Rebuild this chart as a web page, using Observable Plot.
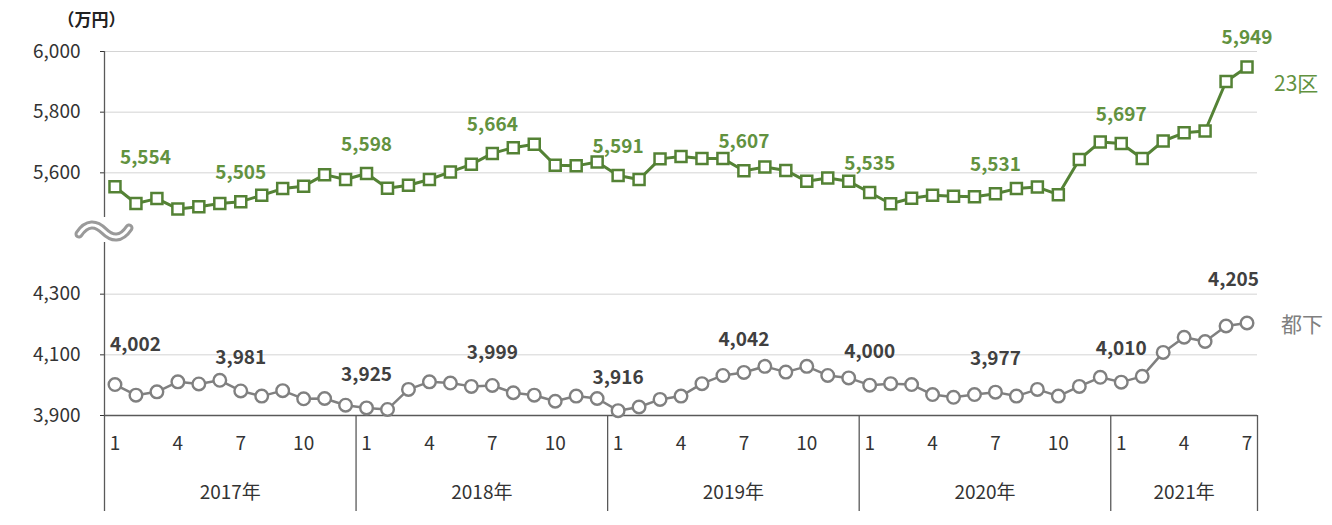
<!DOCTYPE html>
<html>
<head>
<meta charset="utf-8">
<script src="https://cdn.jsdelivr.net/npm/d3@7"></script>
<script src="https://cdn.jsdelivr.net/npm/@observablehq/plot@0.6"></script>
<style>
  body { margin: 0; background: #fff; }
</style>
</head>
<body>
<div id="chart"></div>
<script>
// ---- data ----
const years = [2017, 2018, 2019, 2020, 2021];
const monthsPerYear = [12, 12, 12, 12, 7];
const ku23 = [
  5554, 5499, 5515, 5481, 5488, 5499, 5505, 5526, 5548, 5556, 5594, 5578,
  5598, 5549, 5559, 5578, 5603, 5628, 5664, 5683, 5694, 5625, 5623, 5636,
  5591, 5578, 5646, 5654, 5647, 5647, 5607, 5619, 5608, 5572, 5583, 5572,
  5535, 5498, 5516, 5526, 5523, 5521, 5531, 5548, 5553, 5528, 5644, 5702,
  5697, 5647, 5705, 5732, 5738, 5901, 5949
];
const toka = [
  4002, 3967, 3978, 4011, 4004, 4016, 3981, 3964, 3982, 3955, 3956, 3934,
  3925, 3920, 3986, 4011, 4007, 3996, 3999, 3975, 3967, 3947, 3964, 3956,
  3916, 3928, 3953, 3964, 4005, 4032, 4042, 4062, 4043, 4062, 4032, 4024,
  4000, 4005, 4002, 3969, 3960, 3969, 3977, 3964, 3986, 3964, 3996, 4026,
  4010, 4029, 4108, 4158, 4144, 4195, 4205
];
const lowerTicks = [3900, 4100, 4300];
const upperTicks = [5600, 5800, 6000];
const monthTickLabels = [1, 4, 7, 10];
const labeledMonths = [1, 7];
const seriesNames = ["23区", "都下"];
const unitLabel = "（万円）";

// ---- derived ----
const shift = 5600 - 4700; // upper panel is drawn shifted down (axis break)
const rows = [];
years.forEach((yr, k) => {
  for (let m = 1; m <= monthsPerYear[k]; m++) {
    const i = rows.length;
    rows.push({i, year: yr, month: m, ku23: ku23[i], toka: toka[i]});
  }
});
const n = rows.length;
const yearSpans = [];
{
  let s = 0;
  years.forEach((yr, k) => {
    yearSpans.push({year: yr, start: s, end: s + monthsPerYear[k] - 1});
    s += monthsPerYear[k];
  });
}
const bounds = [-0.5, ...yearSpans.map(d => d.end + 0.5)];
const fmt = d3.format(",");
const tickVals = [...lowerTicks, ...upperTicks.map(v => v - shift)];
const breakVal = (lowerTicks[lowerTicks.length - 1] + upperTicks[0] - shift) / 2;

const green = "#548235";
const greenText = "#62923f";
const gray = "#808080";
const grayText = "#404040";
const axisColor = "#595959";

const labelRows = rows.filter(d => labeledMonths.includes(d.month));
const first = labelRows[0];
const last = rows[n - 1];
const midLabels = labelRows.slice(1);

const breakMark = (index, {x, y}) => {
  const cx = x(-0.5), cy = y(breakVal) - 2;
  const g = d3.create("svg:g");
  const p = `M${cx-25},${cy+3} C${cx-17},${cy-9} ${cx-8},${cy-8} ${cx},${cy} C${cx+8},${cy+8} ${cx+17},${cy+9} ${cx+25},${cy-3}`;
  g.append("path").attr("d", p).attr("fill", "none").attr("stroke", "#9a9a9a").attr("stroke-width", 9).attr("stroke-linecap", "round");
  g.append("path").attr("d", p).attr("fill", "none").attr("stroke", "#fff").attr("stroke-width", 3).attr("stroke-linecap", "round");
  return g.node();
};

const chart = Plot.plot({
  width: 1332,
  height: 525,
  marginLeft: 104,
  marginRight: 75,
  marginTop: 51,
  marginBottom: 110,
  style: {fontFamily: "'Noto Sans CJK JP', 'Noto Sans', sans-serif", fontSize: "19px", color: "#333", background: "#fff", overflow: "visible"},
  x: {domain: [-0.5, n - 0.5], axis: null},
  y: {
    domain: [lowerTicks[0], upperTicks[upperTicks.length - 1] - shift],
    ticks: tickVals,
    tickFormat: d => fmt(d > breakVal ? d + shift : d),
    tickSize: 4,
    tickPadding: 20,
    label: null
  },
  marks: [
    Plot.ruleY(tickVals.slice(1), {stroke: "#d4d4d4", strokeWidth: 1}),
    Plot.ruleY([lowerTicks[0]], {stroke: axisColor, strokeWidth: 1.3}),
    Plot.ruleX(bounds, {x: d => d, y1: lowerTicks[0], y2: lowerTicks[0], insetBottom: -96, stroke: axisColor, strokeWidth: 1.3}),
    Plot.ruleX([-0.5], {x: d => d, y1: upperTicks[upperTicks.length - 1] - shift, y2: breakVal, insetBottom: 16, stroke: axisColor, strokeWidth: 1.3}),
    Plot.ruleX([-0.5], {x: d => d, y1: breakVal, y2: lowerTicks[0], insetTop: 9, stroke: axisColor, strokeWidth: 1.3}),
    breakMark,
    // month ticks & year labels
    Plot.text(rows.filter(d => monthTickLabels.includes(d.month)), {x: "i", frameAnchor: "bottom", lineAnchor: "middle", dy: 28, text: d => String(d.month), fontSize: 19, fill: "#333"}),
    Plot.text(yearSpans, {x: d => (d.start + d.end) / 2, frameAnchor: "bottom", lineAnchor: "middle", dy: 77, text: d => d.year + "年", fontSize: 19, fill: "#333"}),
    // series
    Plot.line(rows, {x: "i", y: d => d.ku23 - shift, stroke: green, strokeWidth: 3}),
    Plot.dot(rows, {x: "i", y: d => d.ku23 - shift, symbol: "square", r: 6.2, fill: "#fff", stroke: green, strokeWidth: 2.5}),
    Plot.line(rows, {x: "i", y: "toka", stroke: gray, strokeWidth: 2.5}),
    Plot.dot(rows, {x: "i", y: "toka", r: 6.3, fill: "#fff", stroke: gray, strokeWidth: 2.4}),
    // value labels
    Plot.text(midLabels, {x: "i", y: d => d.ku23 - shift, text: d => fmt(d.ku23), dy: -29, fontSize: 19, fontWeight: "bold", fill: greenText}),
    Plot.text([first], {x: "i", y: d => d.ku23 - shift, text: d => fmt(d.ku23), dy: -29, dx: 5, textAnchor: "start", fontSize: 19, fontWeight: "bold", fill: greenText}),
    Plot.text(midLabels.filter(d => d !== last), {x: "i", y: "toka", text: d => fmt(d.toka), dy: -33, fontSize: 19, fontWeight: "bold", fill: grayText}),
    Plot.text([first], {x: "i", y: "toka", text: d => fmt(d.toka), dy: -40, dx: -5, textAnchor: "start", fontSize: 19, fontWeight: "bold", fill: grayText}),
    Plot.text([last], {x: "i", y: "toka", text: d => fmt(d.toka), dy: -43, dx: 12, textAnchor: "end", fontSize: 19, fontWeight: "bold", fill: grayText}),
    // series names
    Plot.text([last], {x: "i", y: d => d.ku23 - shift, text: () => seriesNames[0], dx: 27, dy: 17, textAnchor: "start", fontSize: 21, fill: greenText}),
    Plot.text([last], {x: "i", y: "toka", text: () => seriesNames[1], dx: 34, dy: 2, textAnchor: "start", fontSize: 21, fill: gray}),
    // unit
    Plot.text([unitLabel], {frameAnchor: "top-left", textAnchor: "middle", lineAnchor: "middle", text: d => d, dx: -13, dy: -31, fontSize: 17, fontWeight: "bold", fill: "#222"})
  ]
});
document.getElementById("chart").appendChild(chart);
</script>
</body>
</html>
